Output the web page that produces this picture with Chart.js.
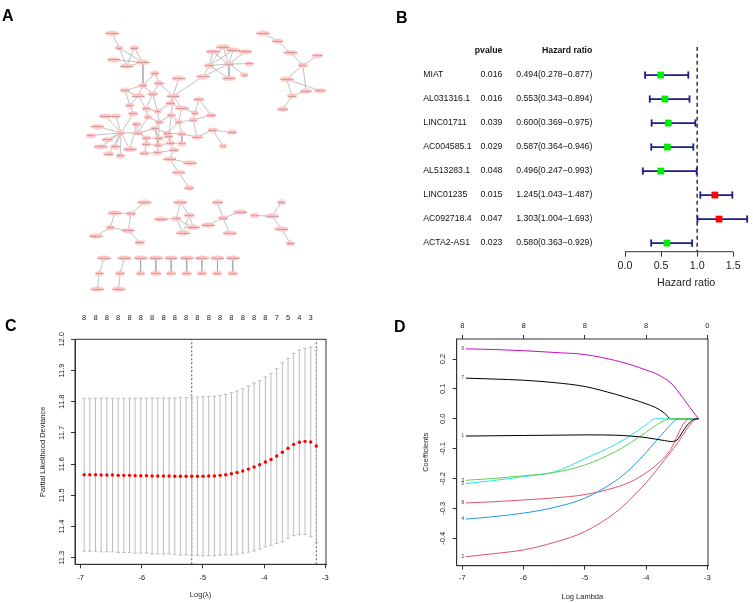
<!DOCTYPE html>
<html><head><meta charset="utf-8">
<script src="https://cdn.jsdelivr.net/npm/chart.js@4/dist/chart.umd.min.js"></script>
<style>
html,body{margin:0;padding:0;background:#fff}
body{width:753px;height:603px;position:relative;overflow:hidden;font-family:"Liberation Sans",Arial,sans-serif}
canvas{position:absolute}
.lab{position:absolute;font:bold 16px/1 "Liberation Sans",Arial,sans-serif;color:#000}
</style></head><body>
<canvas id="cA" width="376" height="300" style="left:0;top:0"></canvas>
<canvas id="cB" width="377" height="300" style="left:376px;top:0"></canvas>
<canvas id="cC" width="376" height="303" style="left:0;top:300px"></canvas>
<canvas id="cD" width="377" height="303" style="left:376px;top:300px"></canvas>
<div class="lab" style="left:2px;top:8px">A</div>
<div class="lab" style="left:396px;top:9.5px">B</div>
<div class="lab" style="left:5px;top:318px">C</div>
<div class="lab" style="left:394px;top:318.5px">D</div>
<script>
// ---------------- DATA ----------------
// Panel A: network layout (node positions) and names
const netX = [110,117.3,132.7,111.7,125,141.7,154,141.7,158.3,123.3,136.7,151.7,178.3,172.7,128.3,145,156.7,170,181.7,199.3,195,193.3,211.7,131.7,146.7,170.7,135,158.3,178.3,103.3,114,95,119.3,88.3,105,98.3,113.3,106.7,118.3,128.3,136.7,154,166.7,145,158,168.3,181.7,197.3,145,157.3,170,181.7,143.3,156.7,173.3,169.3,190,178.3,189.3,213.3,233.3,224,
 224,213.3,234.3,246.7,210,230,250.7,203.3,230,246,
 265,280,293.3,320.7,306,289.3,309.3,324,295,285.3,
 143.3,112.7,129.3,108.3,126.7,93.3,138.3,
 180,160,176,189.3,193.3,182.7,
 218.3,241.7,224,208.3,230.7,
 256.7,274.3,284,284,293.3,
 101.7,96.7,95,122.7,118.3,116.7,
 139.3,139.3,155,155,170.7,170.7,186.7,186.7,202.3,202.3,218.3,218.3,234,234];
const netY = [29.3,44.3,44.3,56.7,63.3,59.3,70.7,83.3,81,88.3,94,92,76,94.3,104,107.3,110,101.7,106.7,97.7,111.7,119,114,112.3,116,114,123.3,121,121,115,115,125.7,132.3,135,139.3,146.7,146.7,154,156,149.3,132.3,127.7,132.7,137.5,138,136,133.3,136.7,144,145,142.7,143.3,153.3,152.7,150,159.3,163.3,173.3,189.3,129.3,131.7,145.7,
 43.3,48.3,46.7,48.3,62.7,61,60.7,74,76,72.3,
 29.3,37.3,49.3,52.3,62.3,76.7,89,88.7,94,107.7,
 204.3,215,216,230.3,233.3,239,245.7,
 204.3,221.7,221,217.7,230,235.7,
 204.3,214.3,220.3,227.7,236,
 217.7,218.3,204.3,231.7,246.7,
 261.7,277.7,294,261.7,277.7,294,
 261.7,277.7,261.7,277.7,261.7,277.7,261.7,277.7,261.7,277.7,261.7,277.7,261.7,277.7];
const netNames = ['AC005332.1','CD2','CD3E','LINC00861','AC092580.4','AC004585.1','EGR1','CCR7','PTPRC','CXCR3','LINC00402','IL2RG','AL031316.1','LINC01235','SELL','CD48','LCK','CD247','AC092718.4','COL1A1','FN1','MIAT','THBS2','ZAP70','ITK','GZMK','CD96','SIT1','CD5','AC245128.3','KLRK1','AC006064.4','CD6','ITGAL','SLAMF6','AL121899.1','TBX21','SH2D1A','CD27','AL513283.1','IKZF3','CD3D','CD3G','PRF1','GZMA','NKG7','CST7','COL3A1','CTSW','CD8A','GZMB','CCL5','TRAT1','TIGIT','PDCD1','LINC01711','AC103591.3','ACTA2-AS1','MYH11','SPARC','POSTN','FAP',
 'AP001189.3','AC010969.2','AC022706.1','AC068831.7','CXCR6','SULF2','MMP2','AC011476.3','AL353801.1','LUM',
 'AC009812.4','LRRC15','AC021678.2','ADAM12','INHBA','AC016831.6','COL11A1','TNFAIP6','SFRP4','CTHRC1',
 'AC026401.3','AC020916.1','CDH11','LEPR','AC005229.4','AC002454.1','GREM1',
 'AC093752.1','AC025171.1','CXCL9','CXCL10','AC020659.1','AC091180.2',
 'PDGFRB','AC009158.1','MMP11','AL139393.2','AC004943.2',
 'PLAU','AC008443.5','SPP1','AL590617.2','CTSK',
 'AC010618.2','CTSG','AC005261.1','AC073172.1','CCL11','AL355987.4',
 'AC004797.1','NOX4','AC012615.1','CRABP2','LINC00926','MS4A1','AC022196.1','FCRL5','AC087463.1','IGLL5','AL117381.1','CD79A','AC100803.3','BANK1'];
const netEdges = [[0,1],[1,4],[1,5],[2,4],[2,5],[3,5],[4,5],[5,7],[6,7],[6,8],[7,9],[7,10],[7,11],[8,11],[8,13],[9,10],[10,14],[10,15],[11,15],[11,16],[12,13],[13,17],[13,18],[13,69],[13,25],[14,23],[15,16],[15,24],[16,17],[16,27],[17,18],[18,20],[18,28],[19,20],[20,21],[21,22],[21,28],[21,47],[23,32],[24,27],[24,40],[25,28],[25,27],[26,40],[27,41],[28,42],[28,46],[29,32],[30,32],[31,32],[32,33],[32,34],[32,35],[32,36],[32,37],[32,38],[32,39],[32,40],[40,41],[40,43],[41,42],[41,44],[42,45],[42,46],[43,44],[43,48],[44,49],[44,45],[45,50],[46,51],[46,47],[47,59],[59,60],[59,61],[48,52],[49,53],[50,54],[48,49],[49,50],[50,51],[52,53],[53,54],[54,55],[55,56],[55,57],[57,58],[27,44],[25,45],[41,49],[42,50],[26,39],[9,14],[19,22],
 [62,66],[62,67],[63,66],[63,67],[64,66],[64,67],[65,67],[66,67],[66,69],[66,70],[67,68],[67,69],[67,70],[67,71],
 [72,73],[73,74],[74,76],[75,76],[76,77],[76,78],[77,79],[77,80],[78,80],[80,81],
 [82,84],[83,84],[83,85],[84,86],[85,86],[85,87],[86,88],
 [89,91],[89,92],[90,91],[91,93],[91,94],[92,94],[92,93],
 [95,97],[96,97],[98,97],[97,99],
 [100,101],[101,102],[101,103],[103,104],
 [105,106],[106,107],[108,109],[109,110],
 [111,112],[113,114],[115,116],[117,118],[119,120],[121,122],[123,124]];

// Panel B: forest plot
const genes = ['MIAT','AL031316.1','LINC01711','AC004585.1','AL513283.1','LINC01235','AC092718.4','ACTA2-AS1'];
const pvalues = ['0.016','0.016','0.039','0.029','0.048','0.015','0.047','0.023'];
const hr = [0.494,0.553,0.600,0.587,0.496,1.245,1.303,0.580];
const hrLow = [0.278,0.343,0.369,0.364,0.247,1.043,1.004,0.363];
const hrHigh = [0.877,0.894,0.975,0.946,0.993,1.487,1.693,0.929];
const hrTicks = [0,0.5,1.0,1.5];
const hrTickLabels = ['0.0','0.5','1.0','1.5'];

// Panel C: cross-validation curve
const cvLogLambda = [-6.940,-6.848,-6.755,-6.663,-6.570,-6.478,-6.385,-6.293,-6.200,-6.108,
 -6.015,-5.923,-5.830,-5.738,-5.645,-5.553,-5.460,-5.368,-5.275,-5.183,
 -5.090,-4.998,-4.905,-4.813,-4.720,-4.628,-4.535,-4.443,-4.350,-4.258,
 -4.165,-4.073,-3.980,-3.888,-3.795,-3.703,-3.610,-3.518,-3.425,-3.333,
 -3.240,-3.148];
const cvMean = [11.566,11.566,11.566,11.565,11.565,11.565,11.564,11.564,11.564,11.563,
 11.563,11.563,11.562,11.562,11.562,11.562,11.561,11.561,11.561,11.561,
 11.561,11.561,11.562,11.562,11.564,11.566,11.569,11.573,11.578,11.584,
 11.591,11.598,11.607,11.615,11.626,11.638,11.651,11.663,11.670,11.673,
 11.671,11.658];
const cvUpper = [11.811,11.811,11.811,11.811,11.811,11.811,11.811,11.811,11.811,11.811,
 11.811,11.811,11.812,11.812,11.812,11.812,11.812,11.813,11.813,11.814,
 11.815,11.816,11.817,11.818,11.820,11.823,11.829,11.834,11.841,11.850,
 11.860,11.868,11.879,11.891,11.906,11.925,11.939,11.955,11.966,11.971,
 11.975,11.966];
const cvLower = [11.321,11.321,11.321,11.319,11.319,11.319,11.317,11.317,11.317,11.315,
 11.315,11.315,11.312,11.312,11.312,11.312,11.310,11.309,11.309,11.308,
 11.307,11.306,11.307,11.306,11.308,11.309,11.309,11.312,11.315,11.318,
 11.322,11.328,11.335,11.339,11.346,11.351,11.363,11.371,11.374,11.375,
 11.367,11.350];
const cvNonzero = [8,8,8,8,8,8,8,8,8,8,8,8,8,8,8,8,8,8,8,8,8,8,8,8,8,8,8,8,8,8,8,8,8,8,7,7,5,5,4,4,3,3];
const cvMinIndex = 19, cv1seIndex = 41;
const cvXTicks = [-7,-6,-5,-4,-3];
const cvXTickLabels = ['-7','-6','-5','-4','-3'];
const cvYTicks = [11.3,11.4,11.5,11.6,11.7,11.8,11.9,12.0];
const cvYTickLabels = ['11.3','11.4','11.5','11.6','11.7','11.8','11.9','12.0'];

// Panel D: coefficient paths
const coefX = [-6.94,-6.5,-6.0,-5.5,-5.0,-4.5,-4.25,-4.0,-3.85,-3.7,-3.6,-3.5,-3.4,-3.3,-3.2,-3.145];
const coef1 = [-0.058,-0.057,-0.056,-0.055,-0.054,-0.055,-0.058,-0.063,-0.068,-0.073,-0.076,-0.072,-0.042,-0.015,-0.001,0];
const coef2 = [-0.462,-0.452,-0.439,-0.414,-0.378,-0.314,-0.268,-0.214,-0.178,-0.138,-0.112,-0.085,-0.055,-0.025,-0.003,0];
const coef3 = [-0.206,-0.200,-0.191,-0.180,-0.155,-0.110,-0.080,-0.045,-0.023,-0.006,0,0,0,0,0,0];
const coef4 = [-0.336,-0.328,-0.316,-0.297,-0.266,-0.208,-0.166,-0.113,-0.077,-0.043,-0.020,-0.002,0,0,0,0];
const coef5 = [-0.217,-0.207,-0.194,-0.178,-0.134,-0.086,-0.056,-0.020,0,0,0,0,0,0,0,0];
const coef6 = [0.234,0.232,0.228,0.222,0.215,0.195,0.181,0.163,0.152,0.135,0.121,0.097,0.070,0.042,0.015,0];
const coef7 = [0.136,0.133,0.129,0.121,0.108,0.082,0.067,0.050,0.038,0.019,0,0,0,0,0,0];
const coef8 = [-0.282,-0.278,-0.272,-0.265,-0.254,-0.230,-0.211,-0.181,-0.158,-0.129,-0.103,-0.062,-0.020,0,0,0];
const coefNames = ['1','2','3','4','5','6','7','8'];
const coefColors = ['#000000','#DF536B','#61D04F','#2297E6','#28E2E5','#CD0BBC','#000000','#DF536B'];
const coefTopAt = [-7,-6,-5,-4,-3];
const coefTopLabels = ['8','8','8','8','0'];
const coefXTickLabels = ['-7','-6','-5','-4','-3'];
const coefYTicks = [-0.4,-0.3,-0.2,-0.1,0.0,0.1,0.2];
const coefYTickLabels = ['-0.4','-0.3','-0.2','-0.1','0.0','0.1','0.2'];

// ---------------- HELPERS ----------------
const FONT = '"Liberation Sans", Arial, sans-serif';
Chart.defaults.font.family = FONT;
Chart.defaults.color = '#222';
const base = {responsive:false, animation:false, devicePixelRatio:1, events:[],
  plugins:{legend:{display:false}, tooltip:{enabled:false}}};
function fixH(h){return s=>{s.height=h;s.paddingLeft=0;s.paddingRight=0;s.paddingTop=0;s.paddingBottom=0;};}
function fixW(w){return s=>{s.width=w;s.paddingLeft=0;s.paddingRight=0;s.paddingTop=0;s.paddingBottom=0;};}
function setTicks(vals){return s=>{s.ticks=vals.map(v=>({value:v}));};}
const boxPlugin = {id:'box', afterDraw(c){const a=c.chartArea,x=c.ctx;x.save();x.strokeStyle='#333';x.lineWidth=1;x.strokeRect(a.left,a.top,a.right-a.left,a.bottom-a.top);x.restore();}};
function rotY(xPos, labels){return {id:'rotY', afterDraw(c){const s=c.scales.y,x=c.ctx;x.save();x.font='7.5px '+FONT;x.fillStyle='#222';x.textAlign='center';x.textBaseline='middle';
  s.ticks.forEach((t,i)=>{const y=s.getPixelForValue(t.value);x.save();x.translate(xPos,y);x.rotate(-Math.PI/2);x.fillText(labels[i],0,0);x.restore();});x.restore();}};}

// ---------------- PANEL A ----------------
const nodeImgs = netNames.map(n=>{const w=Math.round(6+n.length*0.8),h=6;const cv=document.createElement('canvas');cv.width=w;cv.height=h;const g=cv.getContext('2d');g.fillStyle='#FFC2C2';g.beginPath();g.ellipse(w/2,h/2,w/2,h/2-0.5,0,0,Math.PI*2);g.fill();return cv;});
const edgeData = [];
netEdges.forEach(([a,b])=>{edgeData.push({x:netX[a],y:netY[a]},{x:netX[b],y:netY[b]},{x:null,y:null});});
const nodeLabels = {id:'nodeLabels', afterDatasetsDraw(c){const x=c.ctx,sx=c.scales.x,sy=c.scales.y;x.save();x.font='2.5px '+FONT;x.fillStyle='#876060';x.textAlign='center';x.textBaseline='middle';
  netNames.forEach((n,i)=>x.fillText(n,sx.getPixelForValue(netX[i]),sy.getPixelForValue(netY[i])));x.restore();}};
new Chart(document.getElementById('cA'),{type:'scatter',
  data:{datasets:[
    {data:netX.map((v,i)=>({x:v,y:netY[i]})), pointStyle:nodeImgs, pointRadius:3, clip:false, order:0},
    {data:edgeData, showLine:true, spanGaps:false, borderColor:'#989898', borderWidth:0.6, pointRadius:0, order:1}
  ]},
  options:{...base, layout:{padding:0}, scales:{x:{display:false,min:0,max:376},y:{display:false,min:0,max:300,reverse:true}}},
  plugins:[nodeLabels]});

// ---------------- PANEL B ----------------
const forestText = {id:'forestText', afterDraw(c){const x=c.ctx,sy=c.scales.y;x.save();x.fillStyle='#111';x.textBaseline='middle';
  const hy=sy.getPixelForValue(-1);
  x.font='bold 8.7px '+FONT;x.textAlign='right';x.fillText('pvalue',126.3,hy);x.fillText('Hazard ratio',216.3,hy);
  x.font='8.7px '+FONT;
  genes.forEach((g,i)=>{const y=sy.getPixelForValue(i);
    x.textAlign='left';x.fillText(g,47.3,y);
    x.textAlign='right';x.fillText(pvalues[i],126.3,y);
    x.fillText(hr[i].toFixed(3)+'('+hrLow[i].toFixed(3)+'\u2212'+hrHigh[i].toFixed(3)+')',216.3,y);});
  const sx=c.scales.x, yb=c.chartArea.bottom;
  x.strokeStyle='#333';x.lineWidth=1;x.beginPath();x.moveTo(sx.getPixelForValue(hrTicks[0]),yb);x.lineTo(sx.getPixelForValue(hrTicks[hrTicks.length-1]),yb);x.stroke();
  x.restore();}};
const ciSets = hrLow.map((lo,i)=>({data:[{x:lo,y:i},{x:hrHigh[i],y:i}], showLine:true, borderColor:'#1b1b8f', borderWidth:1.8,
  pointStyle:'line', pointRotation:90, pointRadius:3.6, pointBorderColor:'#1b1b8f', pointBorderWidth:1.8, clip:false, order:1}));
new Chart(document.getElementById('cB'),{type:'scatter',
  data:{datasets:[
    {data:hr.map((v,i)=>({x:v,y:i})), pointStyle:'rect', pointRadius:4.8, pointBackgroundColor:hr.map(v=>v>1?'#ff0000':'#00ee00'), pointBorderWidth:0, clip:false, order:0},
    ...ciSets,
    {data:[{x:1,y:-1.18},{x:1,y:7.36}], showLine:true, borderDash:[4,3], borderColor:'#444', borderWidth:1.6, pointRadius:0, order:2}
  ]},
  options:{...base, layout:{padding:{left:249,top:46.7,right:2,bottom:0}},
    scales:{
      x:{type:'linear',min:0,max:1.693,afterBuildTicks:setTicks(hrTicks),afterFit:fixH(48.3),
        ticks:{font:{size:10.7},color:'#222',padding:2.9,autoSkip:false,maxRotation:0,callback:(v,i)=>hrTickLabels[i]},
        grid:{display:true,drawOnChartArea:false,tickLength:5,color:'#333'},border:{display:false},
        title:{display:true,text:'Hazard ratio',font:{size:10.7},color:'#222',padding:{top:0,bottom:10.3}}},
      y:{type:'linear',display:false,min:-1.18,max:7.36,reverse:true}
    }},
  plugins:[forestText]});

// ---------------- PANEL C ----------------
const errData = [];
cvLogLambda.forEach((v,i)=>{errData.push({x:v,y:cvLower[i]},{x:v,y:cvUpper[i]},{x:null,y:null});});
const cvYMin = 11.279, cvYMax = 12.0;
new Chart(document.getElementById('cC'),{type:'scatter',
  data:{datasets:[
    {data:cvLogLambda.map((v,i)=>({x:v,y:cvMean[i]})), pointRadius:1.7, pointBackgroundColor:'#ff0000', pointBorderWidth:0, order:0},
    {data:errData, showLine:true, spanGaps:false, borderColor:'#bcbcbc', borderWidth:1, pointStyle:'line', pointRadius:1.8, pointBorderColor:'#bcbcbc', pointBorderWidth:1, order:1},
    {data:[{x:cvLogLambda[cvMinIndex],y:cvYMin},{x:cvLogLambda[cvMinIndex],y:cvYMax}], showLine:true, borderDash:[2,2], borderColor:'#555', borderWidth:1, pointRadius:0, order:2},
    {data:[{x:cvLogLambda[cv1seIndex],y:cvYMin},{x:cvLogLambda[cv1seIndex],y:cvYMax}], showLine:true, borderDash:[2,2], borderColor:'#555', borderWidth:1, pointRadius:0, order:2}
  ]},
  options:{...base, layout:{padding:{left:0,top:0,right:50,bottom:0}},
    scales:{
      x:{type:'linear',position:'bottom',min:-7.09,max:-2.99,afterBuildTicks:setTicks(cvXTicks),afterFit:fixH(38.7),
        ticks:{font:{size:7.5},color:'#222',padding:5.2,autoSkip:false,maxRotation:0,callback:(v,i)=>cvXTickLabels[i]},
        grid:{display:true,drawOnChartArea:false,tickLength:4,color:'#333'},border:{display:true,color:'#333'},
        title:{display:true,text:'Log(\u03BB)',font:{size:7.5},color:'#222',padding:{top:0,bottom:3.5}}},
      x2:{type:'linear',position:'top',min:-7.09,max:-2.99,afterBuildTicks:setTicks(cvLogLambda.filter((v,i)=>i%2===0)),afterFit:fixH(39.3),
        ticks:{font:{size:7.5},color:'#222',padding:8.8,autoSkip:false,maxRotation:0,callback:(v,i)=>String(cvNonzero[i*2])},
        grid:{display:false},border:{display:false}},
      y:{type:'linear',min:cvYMin,max:cvYMax,afterBuildTicks:setTicks(cvYTicks),afterFit:fixW(75),
        ticks:{display:false},grid:{display:true,drawOnChartArea:false,tickLength:4,color:'#333'},border:{display:true,color:'#333'},
        title:{display:true,text:'Partial Likelihood Deviance',font:{size:7.5},color:'#222',padding:{top:38.8,bottom:0}}}
    }},
  plugins:[boxPlugin, rotY(61.7, cvYTickLabels)]});

// ---------------- PANEL D ----------------
const coefSeries = [coef1,coef2,coef3,coef4,coef5,coef6,coef7,coef8];
const lineLabels = {id:'lineLabels', afterDatasetsDraw(c){const x=c.ctx,sx=c.scales.x,sy=c.scales.y;x.save();x.font='4.5px '+FONT;x.fillStyle='#333';x.textAlign='right';x.textBaseline='middle';
  coefSeries.forEach((s,i)=>x.fillText(coefNames[i],sx.getPixelForValue(coefX[0])-2,sy.getPixelForValue(s[0])));x.restore();}};
new Chart(document.getElementById('cD'),{type:'scatter',
  data:{datasets:coefSeries.map((s,i)=>({data:coefX.map((v,j)=>({x:v,y:s[j]})), showLine:true, borderColor:coefColors[i], borderWidth:1, pointRadius:0, cubicInterpolationMode:'monotone'}))},
  options:{...base, layout:{padding:{left:0,top:0,right:45,bottom:0}},
    scales:{
      x:{type:'linear',position:'bottom',min:-7.09,max:-2.99,afterBuildTicks:setTicks(coefTopAt),afterFit:fixH(37.3),
        ticks:{font:{size:7.5},color:'#222',padding:4.1,autoSkip:false,maxRotation:0,callback:(v,i)=>coefXTickLabels[i]},
        grid:{display:true,drawOnChartArea:false,tickLength:4,color:'#333'},border:{display:true,color:'#333'},
        title:{display:true,text:'Log Lambda',font:{size:7.5},color:'#222',padding:{top:0,bottom:1.8}}},
      x2:{type:'linear',position:'top',min:-7.09,max:-2.99,afterBuildTicks:setTicks(coefTopAt),afterFit:fixH(39),
        ticks:{font:{size:7.5},color:'#222',padding:4.5,autoSkip:false,maxRotation:0,callback:(v,i)=>coefTopLabels[i]},
        grid:{display:true,drawOnChartArea:false,tickLength:4,color:'#333'},border:{display:false}},
      y:{type:'linear',min:-0.492,max:0.267,afterBuildTicks:setTicks(coefYTicks),afterFit:fixW(80.7),
        ticks:{display:false},grid:{display:true,drawOnChartArea:false,tickLength:4,color:'#333'},border:{display:true,color:'#333'},
        title:{display:true,text:'Coefficients',font:{size:7.5},color:'#222',padding:{top:45.5,bottom:0}}}
    }},
  plugins:[boxPlugin, rotY(67.3, coefYTickLabels), lineLabels]});
</script>
</body></html>
